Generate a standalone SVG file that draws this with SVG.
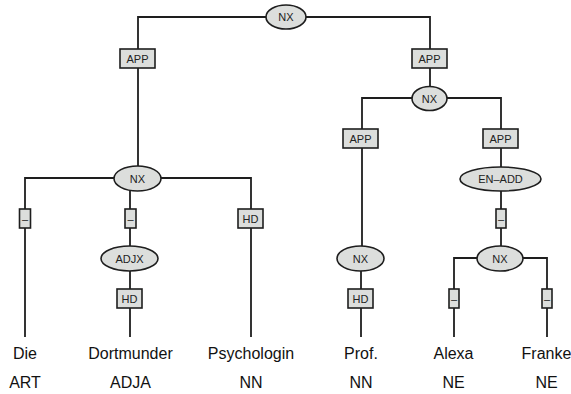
<svg xmlns="http://www.w3.org/2000/svg" width="571" height="394" viewBox="0 0 571 394">
<style>
.e{fill:#dcdedc;stroke:#1e1e1e;stroke-width:1.6}
.b{fill:#dcdedc;stroke:#1e1e1e;stroke-width:1.6}
.c{fill:none;stroke:#1e1e1e;stroke-width:1.8}
.l{font-family:"Liberation Sans",Arial,sans-serif;font-size:11px;fill:#222;text-anchor:middle}
.w{font-family:"Liberation Sans",Arial,sans-serif;font-size:16px;fill:#111;text-anchor:middle}
</style>
<rect width="571" height="394" fill="#fff"/>
<g id="connectors">
<path class="c" d="M266,17 H138 V166"/>
<path class="c" d="M306,17 H430 V86"/>
<path class="c" d="M114,178 H25 V337"/>
<path class="c" d="M161,178 H251 V337"/>
<path class="c" d="M130,191 V337"/>
<path class="c" d="M412,98 H362 V246"/>
<path class="c" d="M447,98 H501 V167"/>
<path class="c" d="M361,271 V337"/>
<path class="c" d="M501,191 V246"/>
<path class="c" d="M477,258 H454 V337"/>
<path class="c" d="M523,258 H547 V337"/>
</g>
<g id="nx_top"><ellipse class="e" cx="286" cy="17" rx="20" ry="12"/><text class="l" x="286" y="21">NX</text></g>
<g id="app_l"><rect class="b" x="120" y="49" width="35" height="19"/><text class="l" x="137.5" y="62.5">APP</text></g>
<g id="app_r"><rect class="b" x="412" y="49" width="35" height="19"/><text class="l" x="429.5" y="62.5">APP</text></g>
<g id="nx_l"><ellipse class="e" cx="137.5" cy="178.5" rx="23.5" ry="12.5"/><text class="l" x="137.5" y="182.5">NX</text></g>
<g id="dash_die"><rect class="b" x="19.5" y="209" width="11" height="19"/><text class="l" x="25" y="222.5">–</text></g>
<g id="dash_dort"><rect class="b" x="125" y="209" width="11" height="19"/><text class="l" x="130.5" y="222.5">–</text></g>
<g id="hd_psy"><rect class="b" x="238" y="209" width="25" height="19"/><text class="l" x="250.5" y="222.5">HD</text></g>
<g id="adjx"><ellipse class="e" cx="129.5" cy="258.5" rx="28.5" ry="12.5"/><text class="l" x="129.5" y="262.5">ADJX</text></g>
<g id="hd_dort"><rect class="b" x="117" y="289" width="25" height="19"/><text class="l" x="129.5" y="302.5">HD</text></g>
<g id="nx_r"><ellipse class="e" cx="429.5" cy="98.5" rx="17.5" ry="12"/><text class="l" x="429.5" y="102.5">NX</text></g>
<g id="app_prof"><rect class="b" x="343" y="129" width="35" height="19"/><text class="l" x="360.5" y="142.5">APP</text></g>
<g id="app_en"><rect class="b" x="483" y="129" width="35" height="19"/><text class="l" x="500.5" y="142.5">APP</text></g>
<g id="en_add"><ellipse class="e" cx="500.5" cy="179" rx="40.5" ry="12"/><text class="l" x="500.5" y="183">EN–ADD</text></g>
<g id="dash_en"><rect class="b" x="496" y="209" width="10" height="19"/><text class="l" x="501" y="222.5">–</text></g>
<g id="nx_prof"><ellipse class="e" cx="360.5" cy="258.5" rx="23.5" ry="12.5"/><text class="l" x="360.5" y="262.5">NX</text></g>
<g id="hd_prof"><rect class="b" x="348" y="289" width="25" height="19"/><text class="l" x="360.5" y="302.5">HD</text></g>
<g id="nx_name"><ellipse class="e" cx="500" cy="258.5" rx="23" ry="12.5"/><text class="l" x="500" y="262.5">NX</text></g>
<g id="dash_alexa"><rect class="b" x="449" y="289" width="10" height="19"/><text class="l" x="454" y="302.5">–</text></g>
<g id="dash_franke"><rect class="b" x="542" y="289" width="10" height="19"/><text class="l" x="547" y="302.5">–</text></g>
<g id="words">
<text class="w" x="25" y="358.5">Die</text>
<text class="w" x="130.5" y="358.5">Dortmunder</text>
<text class="w" x="251" y="358.5">Psychologin</text>
<text class="w" x="361" y="358.5">Prof.</text>
<text class="w" x="453.5" y="358.5">Alexa</text>
<text class="w" x="546.5" y="358.5">Franke</text>
<text class="w" x="25" y="388">ART</text>
<text class="w" x="130.5" y="388">ADJA</text>
<text class="w" x="251" y="388">NN</text>
<text class="w" x="361" y="388">NN</text>
<text class="w" x="453.5" y="388">NE</text>
<text class="w" x="546.5" y="388">NE</text>
</g>
</svg>
